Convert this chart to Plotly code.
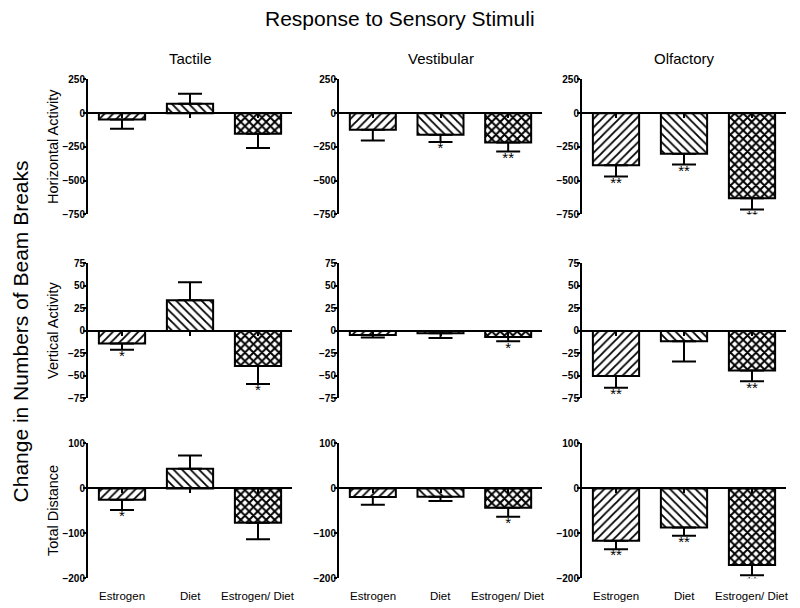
import plotly.graph_objects as go

# ---------------- data ----------------
categories = ["Estrogen", "Diet", "Estrogen/ Diet"]
stimuli = ["Tactile", "Vestibular", "Olfactory"]
measures = ["Horizontal Activity", "Vertical Activity", "Total Distance"]

tactile_horiz = [-46, 70, -152]
tactile_horiz_err = [69, 74, 106]
tactile_horiz_sig = ["", "", ""]
vestib_horiz = [-122, -160, -217]
vestib_horiz_err = [80, 54, 66]
vestib_horiz_sig = ["", "*", "**"]
olf_horiz = [-385, -301, -630]
olf_horiz_err = [84, 79, 83]
olf_horiz_sig = ["**", "**", "**"]

tactile_vert = [-14, 34, -39]
tactile_vert_err = [7, 20, 20]
tactile_vert_sig = ["*", "", "*"]
vestib_vert = [-4.4, -2.5, -6.7]
vestib_vert_err = [3, 5.3, 4.8]
vestib_vert_sig = ["", "", "*"]
olf_vert = [-50, -11.5, -44]
olf_vert_err = [13, 22.5, 12]
olf_vert_sig = ["**", "", "**"]

tactile_dist = [-25, 44, -76]
tactile_dist_err = [23, 29, 37]
tactile_dist_sig = ["*", "", ""]
vestib_dist = [-19, -18.5, -43]
vestib_dist_err = [17, 9.5, 20]
vestib_dist_sig = ["", "", "*"]
olf_dist = [-116, -87, -170]
olf_dist_err = [19, 18, 23]
olf_dist_sig = ["**", "**", "**"]

y_ranges = [[-750, 250], [-75, 75], [-200, 100]]
y_ticks = [[-750, -500, -250, 0, 250], [-75, -50, -25, 0, 25, 50, 75], [-200, -100, 0, 100]]

panels = [
    [(tactile_horiz, tactile_horiz_err, tactile_horiz_sig),
     (vestib_horiz, vestib_horiz_err, vestib_horiz_sig),
     (olf_horiz, olf_horiz_err, olf_horiz_sig)],
    [(tactile_vert, tactile_vert_err, tactile_vert_sig),
     (vestib_vert, vestib_vert_err, vestib_vert_sig),
     (olf_vert, olf_vert_err, olf_vert_sig)],
    [(tactile_dist, tactile_dist_err, tactile_dist_sig),
     (vestib_dist, vestib_dist_err, vestib_dist_sig),
     (olf_dist, olf_dist_err, olf_dist_sig)],
]

# ---------------- layout geometry ----------------
OFF = 8
W, H = 800 - 2 * OFF, 600
col_px = [(88, 292), (339, 542), (582, 786)]
row_px = [(79, 214), (263, 398), (443, 578)]


def px_x(x):
    return (x - OFF) / W


def fig_y(y):
    return (y - 5.7) / 0.98 - OFF


def px_y(y):
    return 1 - fig_y(y) / H


x_domains = [[px_x(a), px_x(b)] for a, b in col_px]
y_domains = [[px_y(b), px_y(a)] for a, b in row_px]

patterns = [dict(shape="/", size=6, solidity=0.3),
            dict(shape="\\", size=6, solidity=0.3),
            dict(shape="x", size=6, solidity=0.55)]

FONT = "Arial, Liberation Sans, sans-serif"

fig = go.Figure()
layout = dict(
    width=W, height=H,
    margin=dict(l=0, r=0, t=0, b=0),
    paper_bgcolor="white", plot_bgcolor="white",
    showlegend=False,
    font=dict(family=FONT, color="black"),
)
annotations = []

for r in range(3):
    for c in range(3):
        idx = r * 3 + c + 1
        xa = "x" if idx == 1 else f"x{idx}"
        ya = "y" if idx == 1 else f"y{idx}"
        means, errs, sig = panels[r][c]
        up = [e if m > 0 else 0 for m, e in zip(means, errs)]
        down = [e if m < 0 else 0 for m, e in zip(means, errs)]
        for i, cat in enumerate(categories):
            fig.add_trace(go.Bar(
                x=[cat], y=[means[i]], width=0.68,
                xaxis=xa, yaxis=ya,
                marker=dict(color="white",
                            line=dict(color="black", width=2),
                            pattern=dict(fgcolor="black", bgcolor="white",
                                         fillmode="replace", **patterns[i])),
                error_y=dict(type="data", symmetric=False,
                             array=[up[i]], arrayminus=[down[i]],
                             color="black", thickness=2, width=12),
            ))
        star_y = [m - e if m < 0 else m + e for m, e in zip(means, errs)]
        fig.add_trace(go.Scatter(
            x=categories, y=star_y, mode="text", text=sig,
            textposition="bottom center",
            textfont=dict(family=FONT, size=15, color="black"),
            xaxis=xa, yaxis=ya, hoverinfo="skip",
        ))

        yr = y_ranges[r]
        yd = y_domains[r]
        zero_pos = yd[0] + (0 - yr[0]) / (yr[1] - yr[0]) * (yd[1] - yd[0])
        xkey = "xaxis" if idx == 1 else f"xaxis{idx}"
        ykey = "yaxis" if idx == 1 else f"yaxis{idx}"
        layout[xkey] = dict(
            domain=x_domains[c], anchor="free", position=zero_pos,
            type="category", categoryorder="array", categoryarray=categories,
            range=[-0.5, 2.5], showgrid=False, zeroline=False,
            showline=True, linecolor="black", linewidth=2,
            ticks="outside", ticklen=4, tickwidth=2, tickcolor="black",
            showticklabels=False, fixedrange=True,
        )
        layout[ykey] = dict(
            domain=yd, anchor=xa, range=yr,
            tickmode="array", tickvals=y_ticks[r],
            showgrid=False, zeroline=False,
            showline=True, linecolor="black", linewidth=2,
            ticks="outside", ticklen=3, tickwidth=2, tickcolor="black",
            ticklabelstandoff=-4,
            tickfont=dict(family=FONT, size=10, color="black", weight="bold"),
            fixedrange=True,
        )
        if r == 2:
            for cat in categories:
                annotations.append(dict(
                    x=cat, y=px_y(596), xref=xa, yref="paper",
                    text=cat, showarrow=False, xanchor="center", yanchor="middle",
                    font=dict(family=FONT, size=11.5, color="black")))

# column titles
for c, name in enumerate(stimuli):
    annotations.append(dict(
        x=sum(x_domains[c]) / 2, y=px_y(58), xref="paper", yref="paper",
        text=name, showarrow=False, xanchor="center", yanchor="middle",
        font=dict(family=FONT, size=15, color="black")))

# row titles
for r, name in enumerate(measures):
    annotations.append(dict(
        x=px_x(53), y=sum(y_domains[r]) / 2, xref="paper", yref="paper",
        text=name, showarrow=False, textangle=-90,
        xanchor="center", yanchor="middle",
        font=dict(family=FONT, size=14.5, color="black")))

# main titles
annotations.append(dict(
    x=px_x(400), y=px_y(18), xref="paper", yref="paper",
    text="Response to Sensory Stimuli", showarrow=False,
    xanchor="center", yanchor="middle",
    font=dict(family=FONT, size=21, color="black")))
annotations.append(dict(
    x=px_x(20), y=px_y(331), xref="paper", yref="paper",
    text="Change in Numbers of Beam Breaks", showarrow=False, textangle=-90,
    xanchor="center", yanchor="middle",
    font=dict(family=FONT, size=21, color="black")))

layout["annotations"] = annotations
fig.update_layout(**layout)
fig.write_html("out.html")
